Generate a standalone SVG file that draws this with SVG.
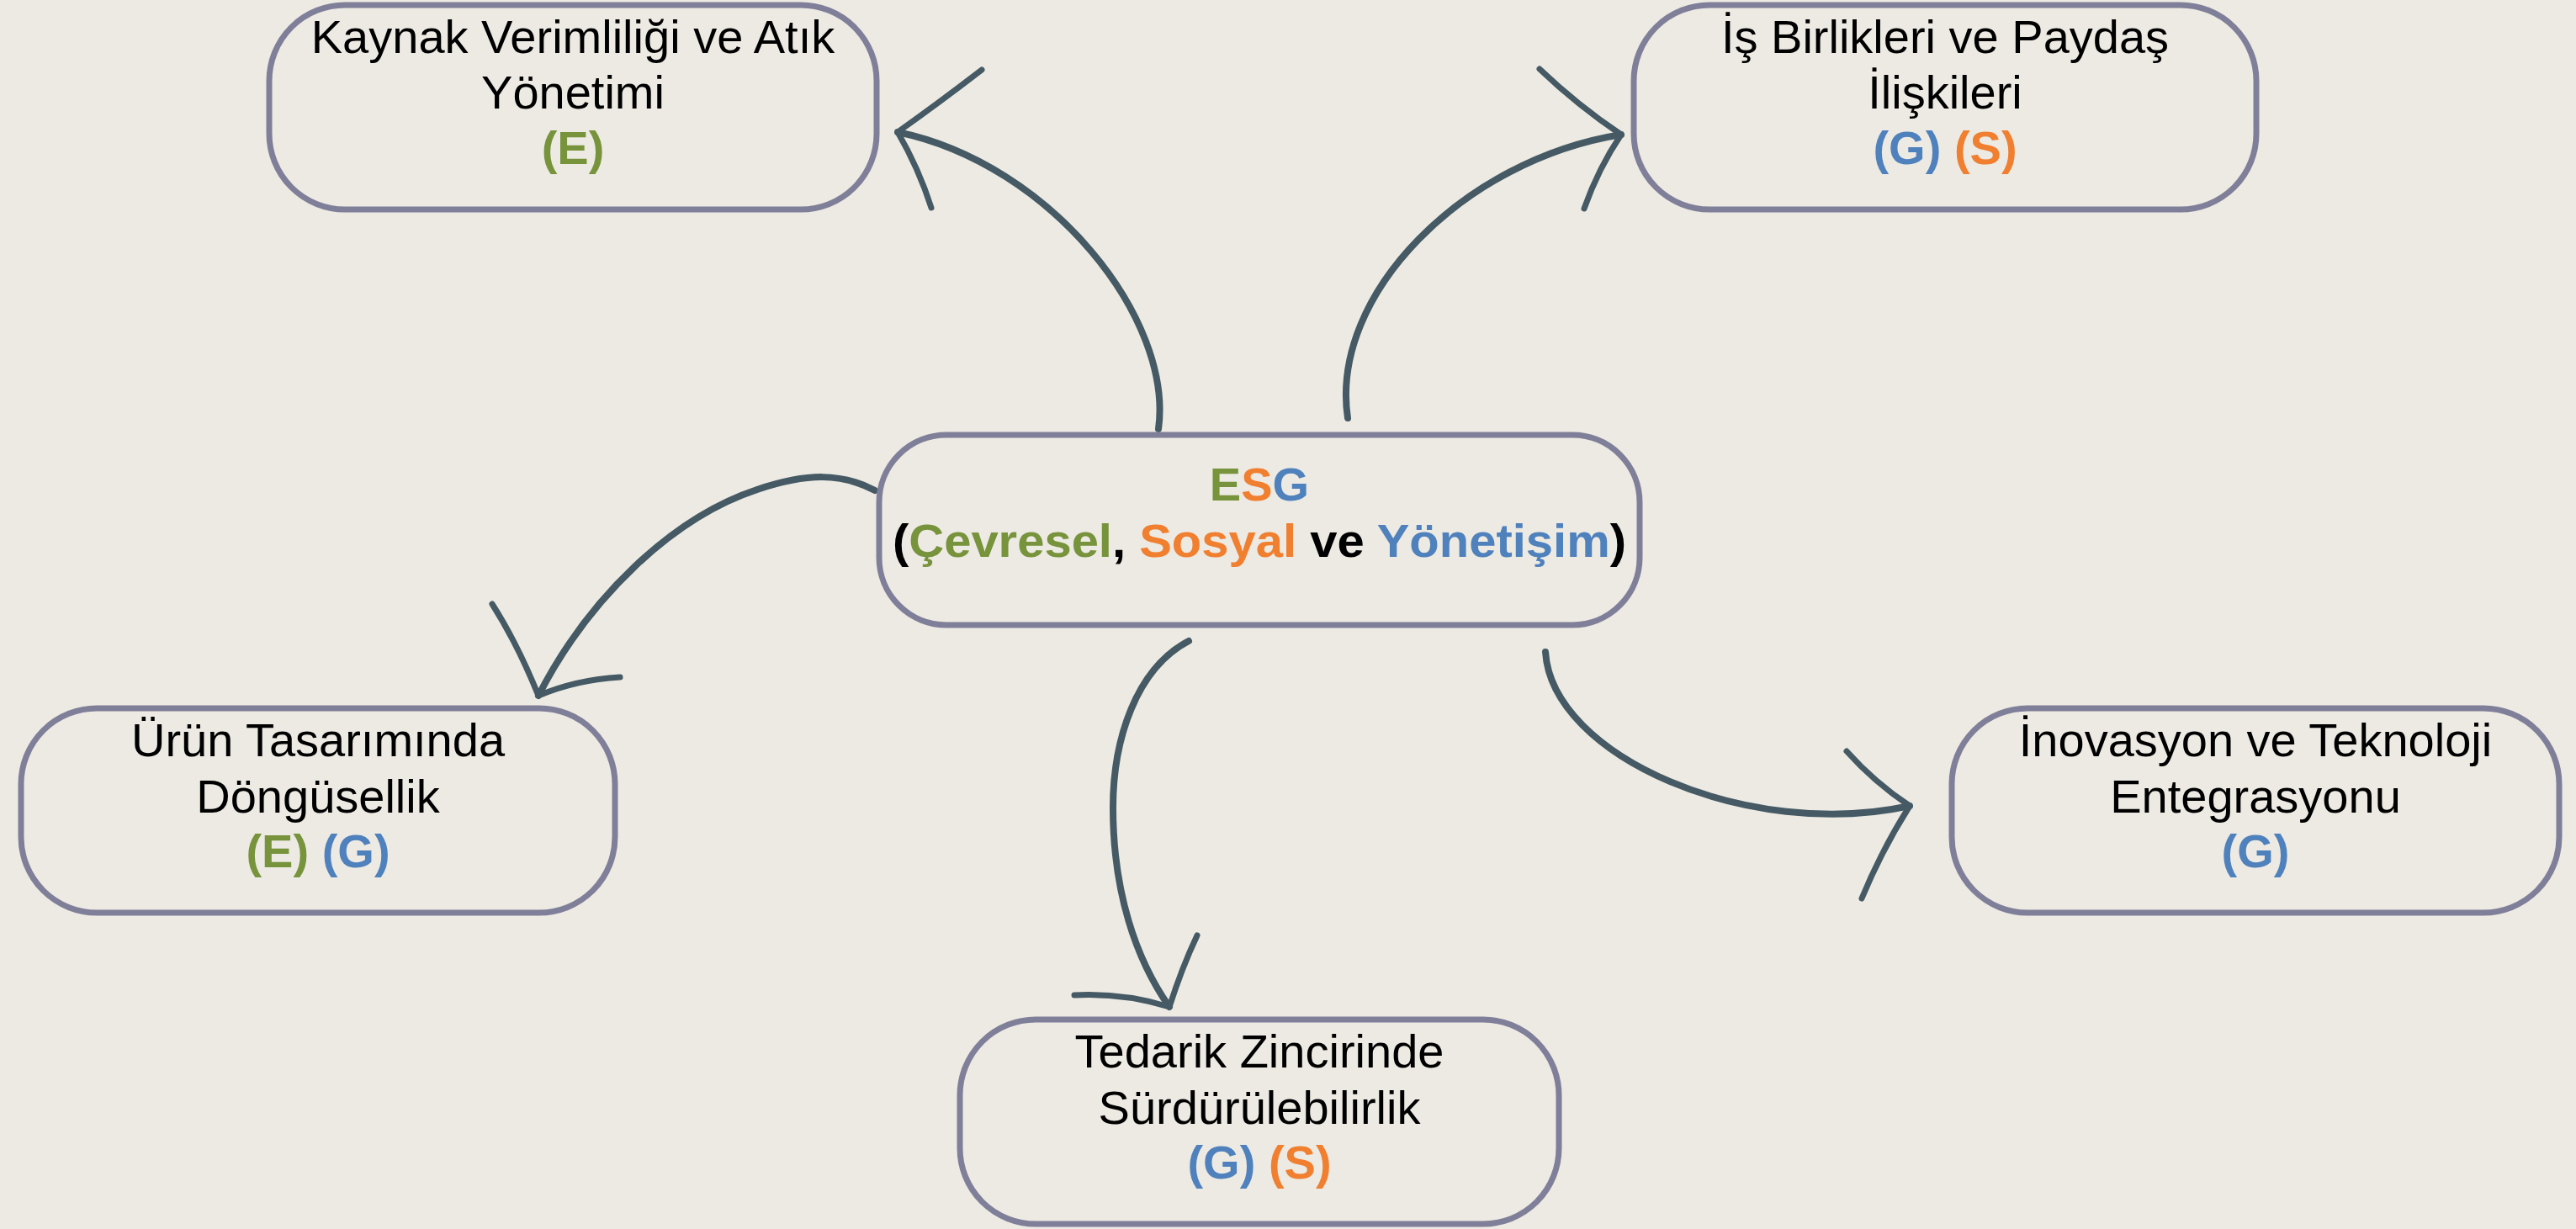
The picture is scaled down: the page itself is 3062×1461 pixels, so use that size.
<svg xmlns="http://www.w3.org/2000/svg" width="3062" height="1461" viewBox="0 0 3062 1461">
<style>
.bg{fill:#EDEAE3}
.box{fill:none;stroke:#807F99;stroke-width:7}
.t{font-family:"Liberation Sans",Arial,sans-serif;font-size:56px;text-anchor:middle;fill:#000}
.b{font-weight:bold}
.g{fill:#77933C}
.o{fill:#F07F30}
.u{fill:#4F81BD}
.k{fill:#000}
.arr{fill:none;stroke:#455A64;stroke-width:8;stroke-linecap:round;stroke-linejoin:round}
.arw{fill:none;stroke:#455A64;stroke-width:7;stroke-linecap:round;stroke-linejoin:round}
</style>
<rect class="bg" x="0" y="0" width="3062" height="1461"/>
<g id="connectors">
  <path class="arr" d="M1377,510 C1395,380 1250,195 1067,157"/>
  <path class="arw" d="M1167,83 Q1115,123 1067,157 Q1092,200 1107,247"/>
  <path class="arr" d="M1602,497 C1580,350 1740,190 1927,160"/>
  <path class="arw" d="M1830,82 Q1875,125 1927,160 Q1900,200 1883,248"/>
  <path class="arr" d="M1040,583 C1000,562 960,562 900,582 C800,615 700,710 640,827"/>
  <path class="arw" d="M585,718 Q615,765 640,827 Q685,808 737,805"/>
  <path class="arr" d="M1413,762 C1350,795 1323,880 1323,960 C1323,1060 1350,1140 1390,1197"/>
  <path class="arw" d="M1277,1183 Q1335,1180 1390,1197 Q1405,1150 1423,1112"/>
  <path class="arr" d="M1837,775 C1845,900 2080,1000 2270,958"/>
  <path class="arw" d="M2195,893 Q2228,930 2270,958 Q2237,1010 2213,1068"/>
</g>
<g id="node-center">
  <rect class="box" x="1045" y="517" width="904" height="226" rx="80" ry="80"/>
  <text class="t b" x="1497" y="595"><tspan class="g">E</tspan><tspan class="o">S</tspan><tspan class="u">G</tspan></text>
  <text class="t b" x="1497" y="662" textLength="872" lengthAdjust="spacingAndGlyphs"><tspan class="k">(</tspan><tspan class="g">Çevresel</tspan><tspan class="k">, </tspan><tspan class="o">Sosyal</tspan><tspan class="k"> ve </tspan><tspan class="u">Yönetişim</tspan><tspan class="k">)</tspan></text>
</g>
<g id="node-kaynak">
  <rect class="box" x="320" y="6" width="722" height="243" rx="90" ry="90"/>
  <text class="t" x="681" y="63">Kaynak Verimliliği ve Atık</text>
  <text class="t" x="681" y="129">Yönetimi</text>
  <text class="t b g" x="681" y="195">(E)</text>
</g>
<g id="node-isbirlikleri">
  <rect class="box" x="1942" y="6" width="740" height="243" rx="90" ry="90"/>
  <text class="t" x="2312" y="63">İş Birlikleri ve Paydaş</text>
  <text class="t" x="2312" y="129">İlişkileri</text>
  <text class="t b" x="2312" y="195"><tspan class="u">(G)</tspan> <tspan class="o">(S)</tspan></text>
</g>
<g id="node-urun">
  <rect class="box" x="25" y="842" width="706" height="243" rx="90" ry="90"/>
  <text class="t" x="378" y="899">Ürün Tasarımında</text>
  <text class="t" x="378" y="966">Döngüsellik</text>
  <text class="t b" x="378" y="1031"><tspan class="g">(E)</tspan> <tspan class="u">(G)</tspan></text>
</g>
<g id="node-inovasyon">
  <rect class="box" x="2320" y="842" width="722" height="243" rx="90" ry="90"/>
  <text class="t" x="2681" y="899">İnovasyon ve Teknoloji</text>
  <text class="t" x="2681" y="966">Entegrasyonu</text>
  <text class="t b u" x="2681" y="1031">(G)</text>
</g>
<g id="node-tedarik">
  <rect class="box" x="1141" y="1212" width="712" height="243" rx="90" ry="90"/>
  <text class="t" x="1497" y="1269">Tedarik Zincirinde</text>
  <text class="t" x="1497" y="1336">Sürdürülebilirlik</text>
  <text class="t b" x="1497" y="1401"><tspan class="u">(G)</tspan> <tspan class="o">(S)</tspan></text>
</g>
</svg>
